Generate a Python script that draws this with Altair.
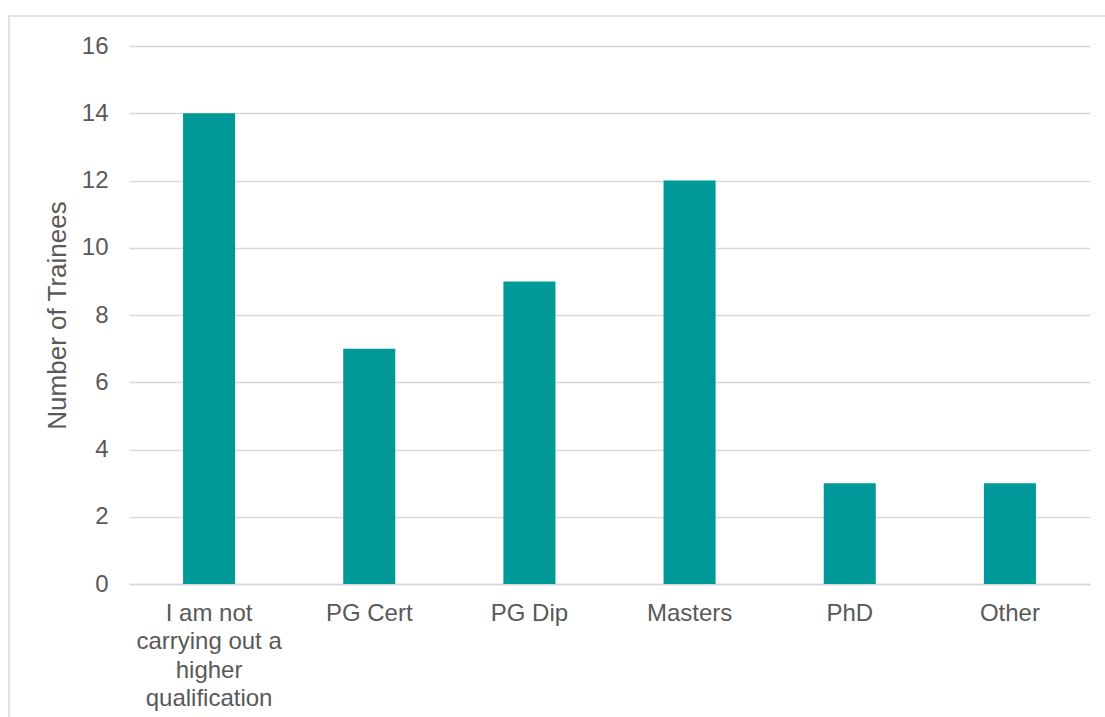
import altair as alt
import pandas as pd

categories = ["I am not carrying out a higher qualification", "PG Cert", "PG Dip", "Masters", "PhD", "Other"]
values = [14, 7, 9, 12, 3, 3]
y_ticks = [0, 2, 4, 6, 8, 10, 12, 14, 16]

df = pd.DataFrame({"category": categories, "count": values})

W, H = 961, 538
FONT = "Liberation Sans"
GREY = "#595959"

label_expr = ("datum.value == 'I am not carrying out a higher qualification' ? "
              "['I am not', 'carrying out a', 'higher', 'qualification'] : datum.value")

bars = alt.Chart(df).mark_bar(color="#009999").encode(
    x=alt.X("category:N", sort=categories,
            scale=alt.Scale(paddingInner=0.675, paddingOuter=0.3375),
            axis=alt.Axis(title=None, labelAngle=0, labelExpr=label_expr,
                          labelFont=FONT, labelFontSize=24, labelColor=GREY,
                          labelLineHeight=28.5, labelPadding=17, ticks=False,
                          domainColor="#d9d9d9", domainWidth=1.5, grid=False,
                          labelLimit=300)),
    y=alt.Y("count:Q", scale=alt.Scale(domain=[0, 16], nice=False),
            axis=alt.Axis(values=y_ticks, title="Number of Trainees",
                          titleFont=FONT, titleFontSize=26, titleColor=GREY,
                          titleFontWeight="normal", titlePadding=11,
                          labelFont=FONT, labelFontSize=24, labelColor=GREY,
                          labelPadding=21, ticks=False, domain=False,
                          gridColor="#d9d9d9", gridWidth=1.5)),
)

border = alt.Chart(pd.DataFrame({"a": [0]})).mark_rect(
    fill=None, stroke="#d9d9d9", strokeWidth=1.5, clip=False
).encode(
    x=alt.value(-120), x2=alt.value(W + 200),
    y=alt.value(-30), y2=alt.value(H + 300),
)

chart = alt.layer(border, bars).properties(
    width=W, height=H,
    autosize=alt.AutoSizeParams(type="none"),
    padding={"left": 129, "top": 46, "right": 15, "bottom": 133},
    background="white",
).configure_view(stroke=None)

chart.save("out.html", embed_options={"renderer": "svg", "actions": False})
